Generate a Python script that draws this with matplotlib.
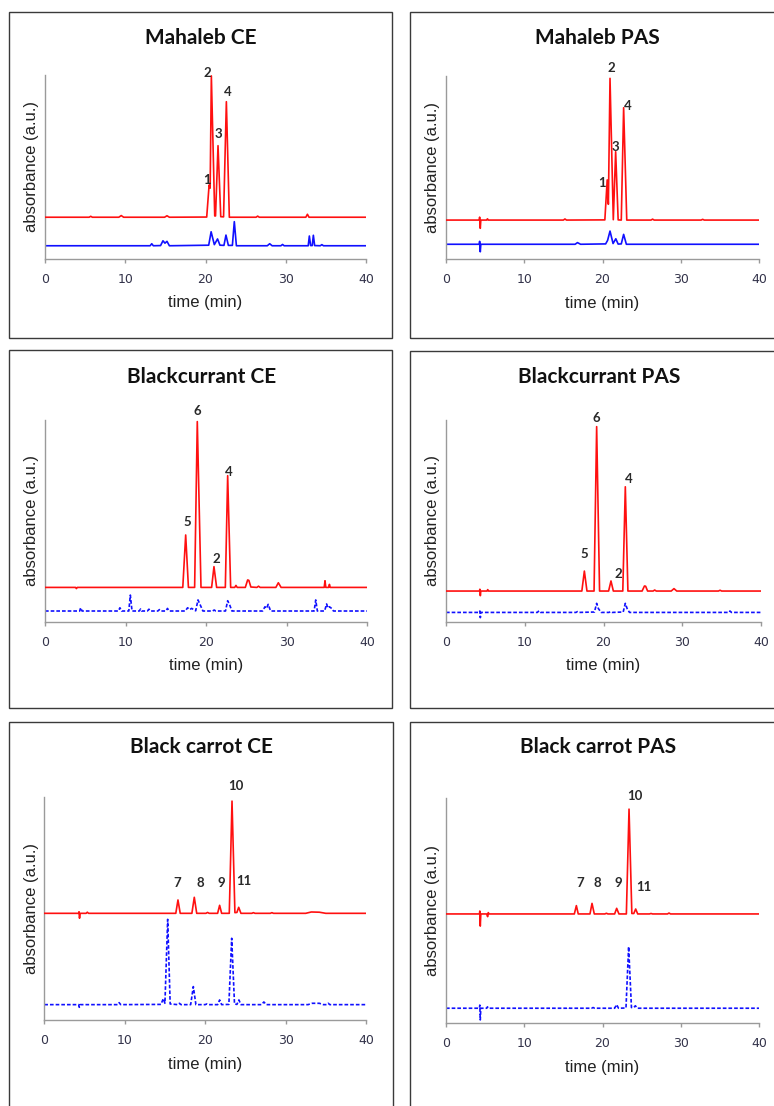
import matplotlib.pyplot as plt
from matplotlib.patches import Rectangle

# ---- data: chromatograms as (time min, absorbance a.u.) ----
mahaleb_ce_red = [(0, 22.7), (5.5, 22.7), (5.7, 23.2), (5.9, 22.7), (9.2, 22.7), (9.5, 23.6), (9.8, 22.7),
                  (14.9, 22.7), (15.2, 23.5), (15.5, 22.7), (20.15, 22.8), (20.45, 40.2), (20.58, 38.5),
                  (20.73, 99.5), (21.15, 23.4), (21.25, 23.4), (21.56, 61.6), (21.9, 23.0), (22.25, 22.9),
                  (22.6, 85.5), (22.97, 22.7), (26.3, 22.7), (26.5, 23.3), (26.7, 22.7), (32.5, 22.7),
                  (32.7, 24.3), (32.9, 22.7), (40, 22.7)]
mahaleb_ce_blue = [(0, 7.2), (13.1, 7.2), (13.3, 8.3), (13.5, 7.2), (14.4, 7.3), (14.7, 9.9), (14.95, 8.6),
                   (15.2, 9.6), (15.5, 7.2), (20.4, 7.5), (20.7, 14.8), (21.1, 7.8), (21.5, 10.9), (21.8, 7.5),
                   (22.3, 7.4), (22.55, 13.0), (22.85, 7.4), (23.35, 7.4), (23.59, 20.3), (23.85, 7.2),
                   (27.7, 7.2), (28.0, 8.3), (28.3, 7.2), (29.4, 7.2), (29.6, 7.9), (29.8, 7.2), (32.8, 7.2),
                   (32.94, 12.5), (33.1, 7.3), (33.3, 7.3), (33.44, 12.9), (33.6, 7.3), (34.3, 7.2),
                   (34.5, 7.8), (34.7, 7.2), (40, 7.2)]

mahaleb_pas_red = [(0, 21.4), (4.25, 21.4), (4.3, 23.0), (4.38, 16.9), (4.45, 21.4), (5.2, 21.4), (5.3, 22.1),
                   (5.4, 21.4), (15.0, 21.4), (15.2, 22.0), (15.4, 21.4), (20.3, 21.5), (20.6, 43.3),
                   (20.75, 30.0), (20.96, 98.7), (21.38, 21.6), (21.68, 58.7), (22.0, 21.5), (22.4, 21.4),
                   (22.7, 82.7), (23.1, 21.4), (26.2, 21.4), (26.4, 21.9), (26.6, 21.4), (32.6, 21.4),
                   (32.8, 21.8), (33.0, 21.4), (40, 21.4)]
mahaleb_pas_blue = [(0, 8.2), (4.25, 8.2), (4.3, 9.8), (4.38, 4.1), (4.45, 8.2), (16.5, 8.2), (16.8, 9.1),
                    (17.2, 8.2), (20.4, 8.4), (20.65, 10.3), (20.96, 15.4), (21.35, 8.6), (21.7, 11.2),
                    (22.0, 8.3), (22.4, 8.4), (22.7, 13.6), (23.05, 8.2), (40, 8.2)]

blackcurrant_ce_red = [(0, 17.0), (3.8, 17.0), (3.9, 16.4), (4.0, 17.0), (17.1, 17.0), (17.46, 43.0),
                       (17.8, 17.0), (18.57, 17.0), (18.9, 99.2), (19.36, 17.0), (20.68, 17.0), (20.97, 27.3),
                       (21.3, 17.0), (22.38, 17.0), (22.67, 72.4), (23.04, 17.0), (23.55, 17.0), (23.7, 18.0),
                       (23.85, 17.0), (24.86, 17.0), (25.15, 20.7), (25.3, 20.5), (25.55, 17.2), (26.3, 17.0),
                       (26.5, 17.6), (26.7, 17.0), (28.65, 17.0), (28.96, 19.3), (29.3, 17.0), (34.65, 17.0),
                       (34.75, 20.3), (34.85, 17.0), (35.2, 17.0), (35.3, 18.5), (35.4, 17.0), (40, 17.0)]
blackcurrant_ce_blue = [(0, 5.3), (4.3, 5.3), (4.43, 6.9), (4.6, 5.3), (9.1, 5.3), (9.3, 6.9), (9.5, 5.3),
                        (10.4, 5.3), (10.59, 13.2), (10.8, 5.3), (11.7, 5.3), (11.87, 6.3), (12.0, 5.3),
                        (12.7, 5.3), (12.9, 6.2), (13.1, 5.3), (14.0, 5.3), (14.2, 6.0), (14.4, 5.3),
                        (15.0, 5.3), (15.2, 6.6), (15.4, 5.3), (17.4, 5.3), (17.7, 6.9), (17.95, 6.0),
                        (18.2, 6.6), (18.7, 5.4), (18.99, 10.8), (19.3, 8.0), (19.6, 5.3), (20.8, 5.3),
                        (21.0, 5.8), (21.2, 5.3), (22.4, 5.3), (22.67, 10.4), (22.95, 8.0), (23.2, 5.3),
                        (27.0, 5.3), (27.3, 7.4), (27.5, 6.6), (27.7, 8.6), (28.0, 5.3), (33.4, 5.3),
                        (33.6, 10.8), (33.8, 5.3), (34.7, 5.3), (34.95, 8.8), (35.1, 6.8), (35.3, 7.4),
                        (35.6, 6.5), (35.8, 5.3), (40, 5.3)]

blackcurrant_pas_red = [(0, 15.2), (4.25, 15.2), (4.3, 16.1), (4.36, 12.9), (4.42, 15.2), (5.2, 15.2),
                        (5.3, 15.9), (5.4, 15.2), (17.25, 15.2), (17.57, 25.1), (17.9, 15.2), (18.8, 15.2),
                        (19.13, 96.7), (19.5, 15.2), (20.65, 15.2), (20.95, 20.2), (21.25, 15.2),
                        (22.45, 15.2), (22.77, 66.9), (23.1, 15.2), (24.9, 15.2), (25.2, 17.7), (25.35, 17.6),
                        (25.6, 15.2), (26.3, 15.2), (26.5, 15.7), (26.7, 15.2), (28.6, 15.2), (28.95, 16.4),
                        (29.3, 15.2), (34.6, 15.2), (34.8, 15.6), (35.0, 15.2), (40, 15.2)]
blackcurrant_pas_blue = [(0, 4.6), (4.25, 4.6), (4.3, 5.3), (4.36, 2.0), (4.42, 4.6), (11.6, 4.6),
                         (11.8, 5.4), (12.0, 4.6), (16.5, 4.6), (16.7, 5.0), (16.9, 4.6), (18.85, 4.8),
                         (19.13, 9.1), (19.35, 6.5), (19.7, 4.6), (20.7, 4.6), (20.9, 5.0), (21.1, 4.6),
                         (22.5, 4.8), (22.77, 9.1), (23.0, 6.5), (23.3, 4.6), (35.9, 4.6), (36.06, 5.3),
                         (36.25, 4.6), (40, 4.6)]

carrot_ce_red = [(0, 47.9), (4.28, 47.9), (4.32, 48.6), (4.38, 45.7), (4.45, 47.9), (5.2, 47.9), (5.35, 48.4),
                 (5.5, 47.9), (16.35, 47.9), (16.62, 53.9), (16.9, 47.9), (18.35, 47.9), (18.65, 55.1),
                 (18.95, 47.9), (20.1, 47.9), (20.3, 48.3), (20.5, 47.9), (21.55, 47.9), (21.8, 51.5),
                 (22.05, 47.9), (23.0, 47.9), (23.34, 98.3), (23.7, 48.2), (23.95, 48.3), (24.17, 50.6),
                 (24.45, 47.9), (25.8, 47.9), (26.0, 48.2), (26.2, 47.9), (28.1, 47.9), (28.3, 48.2),
                 (28.5, 47.9), (32.5, 47.9), (33.2, 48.5), (34.2, 48.4), (35.0, 47.9), (40, 47.9)]
carrot_ce_blue = [(0, 6.9), (4.28, 6.9), (4.35, 5.7), (4.45, 6.9), (9.1, 6.9), (9.3, 7.8), (9.5, 6.9),
                  (14.5, 7.0), (14.8, 9.6), (15.0, 7.5), (15.34, 45.2), (15.65, 7.2), (16.6, 6.9), (16.8, 7.5),
                  (17.0, 6.9), (18.2, 6.9), (18.53, 15.0), (18.85, 6.9), (20.0, 6.9), (20.2, 7.2), (20.4, 6.9),
                  (21.55, 6.9), (21.8, 9.0), (22.05, 6.9), (22.95, 7.0), (23.3, 36.7), (23.65, 7.2),
                  (23.95, 7.0), (24.2, 9.0), (24.45, 6.9), (27.0, 6.9), (27.3, 8.1), (27.6, 6.9), (32.8, 6.9),
                  (33.3, 7.5), (34.2, 7.5), (34.7, 6.9), (35.1, 6.9), (35.3, 7.5), (35.5, 6.9), (40, 6.9)]

carrot_pas_red = [(0, 48.6), (4.28, 48.6), (4.32, 49.9), (4.38, 43.2), (4.45, 48.6), (5.2, 48.6),
                  (5.32, 47.4), (5.4, 49.2), (5.5, 48.6), (16.4, 48.6), (16.66, 52.3), (16.9, 48.6),
                  (18.4, 48.6), (18.66, 53.3), (18.95, 48.6), (20.3, 48.6), (20.5, 48.9), (20.7, 48.6),
                  (21.55, 48.6), (21.81, 51.1), (22.1, 48.6), (23.05, 48.6), (23.39, 95.2), (23.75, 48.8),
                  (24.0, 48.8), (24.24, 50.8), (24.5, 48.6), (26.0, 48.6), (26.2, 48.8), (26.4, 48.6),
                  (28.3, 48.6), (28.5, 49.0), (28.7, 48.6), (40, 48.6)]
carrot_pas_blue = [(0, 6.7), (4.28, 6.7), (4.32, 8.1), (4.38, 1.5), (4.45, 6.7), (5.2, 6.7), (5.3, 7.3),
                   (5.4, 6.7), (15.4, 6.7), (15.6, 7.0), (15.8, 6.7), (18.6, 6.7), (18.8, 7.0), (19.0, 6.7),
                   (21.55, 6.7), (21.8, 8.3), (22.05, 6.7), (23.0, 6.8), (23.34, 34.1), (23.7, 7.0),
                   (24.0, 7.0), (24.2, 7.8), (24.45, 6.7), (40, 6.7)]

# peak numbers (label, time, absorbance where the number sits)
mahaleb_ce_peaks = [("2", 20.19, 101.1), ("4", 22.8, 90.8), ("3", 21.56, 67.9), ("1", 20.19, 42.9)]
mahaleb_pas_peaks = [("2", 21.18, 104.2), ("4", 23.26, 83.6), ("3", 21.69, 61.4), ("1", 19.97, 41.8)]
blackcurrant_ce_peaks = [("5", 17.66, 49.6), ("6", 18.9, 104.5), ("2", 21.26, 30.9), ("4", 22.87, 74.4)]
blackcurrant_pas_peaks = [("5", 17.52, 33.6), ("6", 19.14, 100.8), ("2", 21.88, 23.8), ("4", 23.24, 70.6)]
carrot_ce_peaks = [("7", 16.54, 61.4), ("8", 19.4, 61.4), ("9", 21.97, 61.4), ("10", 23.84, 105.1),
                   ("11", 24.79, 62.4)]
carrot_pas_peaks = [("7", 17.12, 62.2), ("8", 19.39, 62.2), ("9", 22.02, 62.2), ("10", 24.15, 101.0),
                    ("11", 25.27, 60.4)]

titles = ["Mahaleb CE", "Mahaleb PAS", "Blackcurrant CE", "Blackcurrant PAS",
          "Black carrot CE", "Black carrot PAS"]
x_ticks = [0, 10, 20, 30, 40]

# ---- layout (pixels) ----
W, H = 774, 1106
axes_px = [(45, 75, 366, 259), (446, 76, 759, 259.3),
           (45, 420, 367.3, 621.7), (446, 420, 761, 621.7),
           (44.3, 797.3, 366, 1020), (446, 798.3, 759, 1023.3)]
box_px = [(9, 12, 392.5, 338), (410, 12, 790, 338),
          (9, 350, 392.5, 708.3), (410, 351, 790, 708.3),
          (9, 722.3, 393.3, 1120), (410, 722.3, 790, 1120)]
title_px = [(201, 38), (597.7, 38), (201.7, 376.7), (599, 376.7), (201, 747.3), (597.7, 747.3)]

red_traces = [mahaleb_ce_red, mahaleb_pas_red, blackcurrant_ce_red, blackcurrant_pas_red,
              carrot_ce_red, carrot_pas_red]
blue_traces = [mahaleb_ce_blue, mahaleb_pas_blue, blackcurrant_ce_blue, blackcurrant_pas_blue,
               carrot_ce_blue, carrot_pas_blue]
peak_labels = [mahaleb_ce_peaks, mahaleb_pas_peaks, blackcurrant_ce_peaks, blackcurrant_pas_peaks,
               carrot_ce_peaks, carrot_pas_peaks]
blue_dashed = [False, False, True, True, True, True]

fig = plt.figure(figsize=(W / 100, H / 100), dpi=100)

for i in range(6):
    # panel frame
    bl, bt, br, bb = box_px[i]
    fig.patches.append(Rectangle((bl / W, 1 - bb / H), (br - bl) / W, (bb - bt) / H,
                                 transform=fig.transFigure, fill=False,
                                 edgecolor="#3a3a3a", linewidth=1.0))

    l, t, r, b = axes_px[i]
    ax = fig.add_axes([l / W, 1 - b / H, (r - l) / W, (b - t) / H])

    tr, ar = zip(*red_traces[i])
    tb, ab = zip(*blue_traces[i])
    ax.plot(tr, ar, color="#ff1010", linewidth=1.2, zorder=3)
    ls = (0, (2.2, 1.2)) if blue_dashed[i] else "-"
    ax.plot(tb, ab, color="#1010ff", linewidth=1.2, linestyle=ls, zorder=2)

    for txt, px, py in peak_labels[i]:
        ax.text(px, py, txt, ha="center", va="center", fontsize=9.5, fontweight="bold",
                family="Lato", color="#2a2a2a", clip_on=False)

    ax.set_xlim(0, 40)
    ax.set_ylim(0, 100)
    ax.set_xticks(x_ticks)
    ax.set_yticks([])
    for s in ["top", "right"]:
        ax.spines[s].set_visible(False)
    for s in ["left", "bottom"]:
        ax.spines[s].set_color("#9a9a9a")
        ax.spines[s].set_linewidth(1.0)
    ax.tick_params(axis="x", length=3, width=1.0, color="#9a9a9a", pad=7,
                   labelsize=9, labelcolor="#33334a")

    ax.set_xlabel("time (min)", family="Liberation Sans", fontsize=12, color="#222222")
    ax.xaxis.label.set_va("center")
    ax.xaxis.set_label_coords(0.5, -44 / (b - t))
    ax.set_ylabel("absorbance (a.u.)", family="Liberation Sans", fontsize=12, color="#222222")
    ax.yaxis.label.set_va("center")
    ax.yaxis.set_label_coords(-13 / (r - l), 0.5)

    cx, cy = title_px[i]
    fig.text(cx / W, 1 - cy / H, titles[i], ha="center", va="center", fontsize=15,
             fontweight="bold", family="Lato", color="#111111")

fig.savefig("out.png", dpi=100)
